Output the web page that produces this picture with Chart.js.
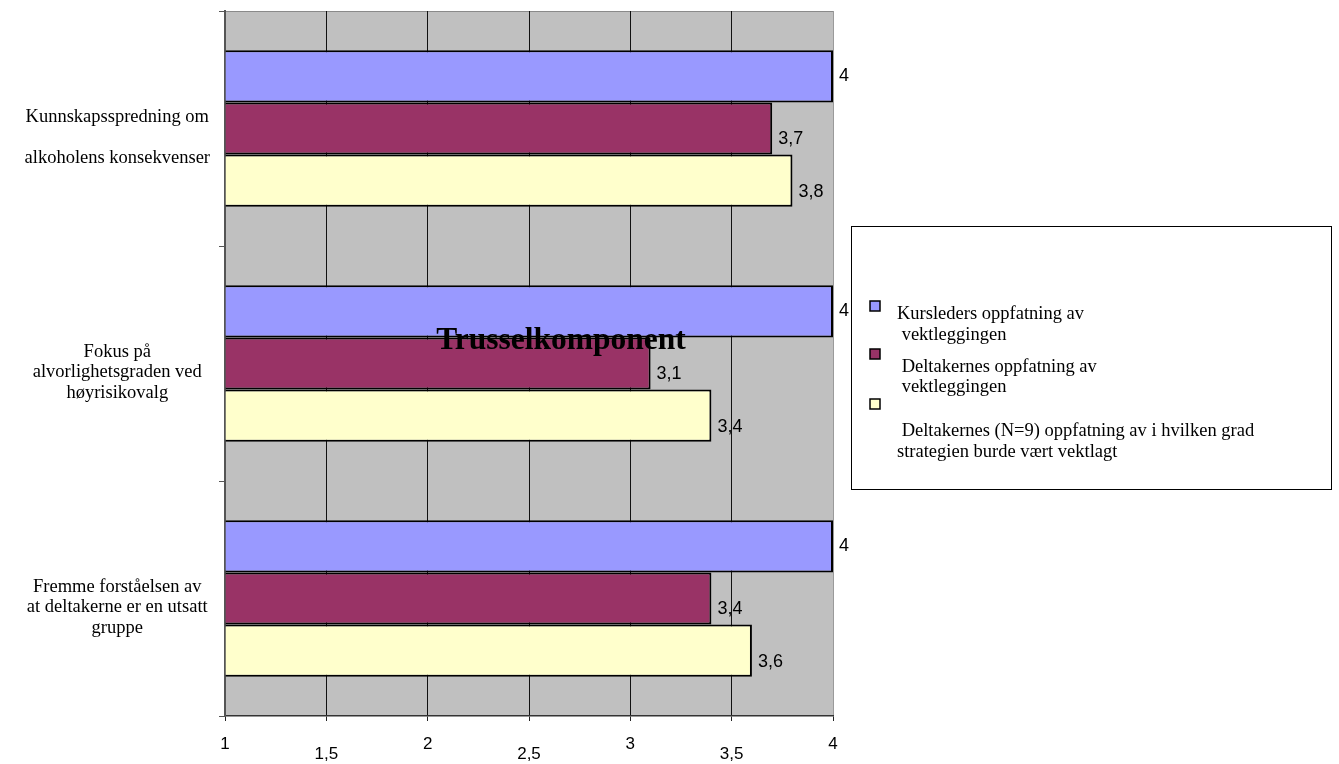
<!DOCTYPE html>
<html>
<head>
<meta charset="utf-8">
<script src="https://cdn.jsdelivr.net/npm/chart.js@4/dist/chart.umd.min.js"></script>
<style>
  body { margin: 0; background: #fff; }
  #wrap { width: 1339px; height: 764px; position: relative; }
</style>
</head>
<body>
<div id="wrap"><canvas id="chart"></canvas></div>
<script>
const categories = [
    ['Kunnskapsspredning om', '', 'alkoholens konsekvenser'],
    ['Fokus på', 'alvorlighetsgraden ved', 'høyrisikovalg'],
    ['Fremme forståelsen av', 'at deltakerne er en utsatt', 'gruppe']
];
const kursleder = [4, 4, 4];
const deltakere = [3.7, 3.1, 3.4];
const deltakereBurde = [3.8, 3.4, 3.6];
const xTickLabels = ['1', '1,5', '2', '2,5', '3', '3,5', '4'];
const seriesNames = [
    ['Kursleders oppfatning av', ' vektleggingen'],
    [' Deltakernes oppfatning av', ' vektleggingen'],
    [' Deltakernes (N=9) oppfatning av i hvilken grad', 'strategien burde vært vektlagt']
];
const chartTitle = 'Trusselkomponent';

const serif = 'Liberation Serif, Times New Roman, serif';
const sans = 'Liberation Sans, Arial, sans-serif';

// grey plot background + top border
const plotBackground = {
    id: 'plotBackground',
    beforeDraw(chart) {
        const { ctx, chartArea: a } = chart;
        ctx.save();
        ctx.fillStyle = '#c0c0c0';
        ctx.fillRect(a.left, a.top, a.right - a.left, a.bottom - a.top);
        ctx.strokeStyle = '#8a8a8a';
        ctx.lineWidth = 1;
        ctx.beginPath();
        ctx.moveTo(a.left, a.top + 0.5);
        ctx.lineTo(a.right, a.top + 0.5);
        ctx.stroke();
        ctx.restore();
    }
};

// value labels right of each bar, title over the bars
const labelOffsets = [0, 11, 11];
const barLabels = {
    id: 'barLabels',
    afterDatasetsDraw(chart) {
        const ctx = chart.ctx;
        ctx.save();
        ctx.font = '18px ' + sans;
        ctx.fillStyle = '#000';
        ctx.textAlign = 'left';
        ctx.textBaseline = 'middle';
        chart.data.datasets.forEach((ds, di) => {
            chart.getDatasetMeta(di).data.forEach((bar, i) => {
                const txt = String(ds.data[i]).replace('.', ',');
                ctx.fillText(txt, bar.x + 6, bar.y + labelOffsets[di]);
            });
        });
        ctx.font = 'bold 31.5px ' + serif;
        ctx.textAlign = 'center';
        ctx.textBaseline = 'alphabetic';
        ctx.fillText(chartTitle, 561, 349);
        ctx.restore();
    }
};

// boxed legend on the right
const boxLegend = {
    id: 'boxLegend',
    afterDraw(chart) {
        const ctx = chart.ctx;
        const markerTops = [301, 349, 399];
        const baselines = [[319, 340], [372, 392], [436, 457]];
        ctx.save();
        ctx.strokeStyle = '#000';
        ctx.lineWidth = 1;
        ctx.strokeRect(851.5, 226.5, 480, 263);
        ctx.font = '18.5px ' + serif;
        ctx.textAlign = 'left';
        ctx.textBaseline = 'alphabetic';
        chart.data.datasets.forEach((ds, i) => {
            ctx.fillStyle = ds.backgroundColor;
            ctx.fillRect(870, markerTops[i], 10, 10);
            ctx.lineWidth = 1.5;
            ctx.strokeRect(870, markerTops[i], 10, 10);
            ctx.fillStyle = '#000';
            seriesNames[i].forEach((line, j) => {
                ctx.fillText(line, 897, baselines[i][j]);
            });
        });
        ctx.restore();
    }
};

const ctx = document.getElementById('chart').getContext('2d');
new Chart(ctx, {
    type: 'bar',
    data: {
        labels: categories,
        datasets: [
            { label: seriesNames[0].join(' '), data: kursleder, backgroundColor: '#9999ff' },
            { label: seriesNames[1].join(' '), data: deltakere, backgroundColor: '#993366' },
            { label: seriesNames[2].join(' '), data: deltakereBurde, backgroundColor: '#ffffcc' }
        ]
    },
    options: {
        indexAxis: 'y',
        responsive: true,
        maintainAspectRatio: false,
        animation: false,
        devicePixelRatio: 1,
        layout: { padding: { top: 11, right: 506, bottom: 0, left: 0 } },
        datasets: {
            bar: {
                base: 1,
                borderColor: '#000',
                borderWidth: 2,
                categoryPercentage: 0.665,
                barPercentage: 1
            }
        },
        scales: {
            x: {
                type: 'linear',
                min: 1,
                max: 4,
                afterFit: (scale) => { scale.height = 48; },
                ticks: {
                    stepSize: 0.5,
                    maxRotation: 0,
                    autoSkip: false,
                    padding: 18,
                    color: '#000',
                    font: { family: sans, size: 17, lineHeight: 10 / 17 },
                    callback: (value, index) => index % 2 ? ['', xTickLabels[index]] : xTickLabels[index]
                },
                grid: {
                    color: (c) => c.tick && c.tick.value === 4 ? '#9a9a9a' : '#111',
                    tickColor: '#222',
                    tickLength: 5,
                    lineWidth: 1
                },
                border: { color: '#333', width: 1.5 }
            },
            y: {
                type: 'category',
                afterFit: (scale) => {
                    scale.width = 225;
                    scale.paddingTop = 0;
                    scale.paddingBottom = 0;
                },
                ticks: {
                    crossAlign: 'center',
                    padding: 9,
                    labelOffset: 9,
                    color: '#000',
                    font: { family: serif, size: 18.5, lineHeight: 1.1 }
                },
                grid: {
                    offset: true,
                    drawOnChartArea: false,
                    tickLength: 6,
                    tickColor: '#555'
                },
                border: { color: '#555', width: 2 }
            }
        },
        plugins: {
            legend: { display: false },
            title: { display: false },
            tooltip: { enabled: false }
        }
    },
    plugins: [plotBackground, barLabels, boxLegend]
});
</script>
</body>
</html>
